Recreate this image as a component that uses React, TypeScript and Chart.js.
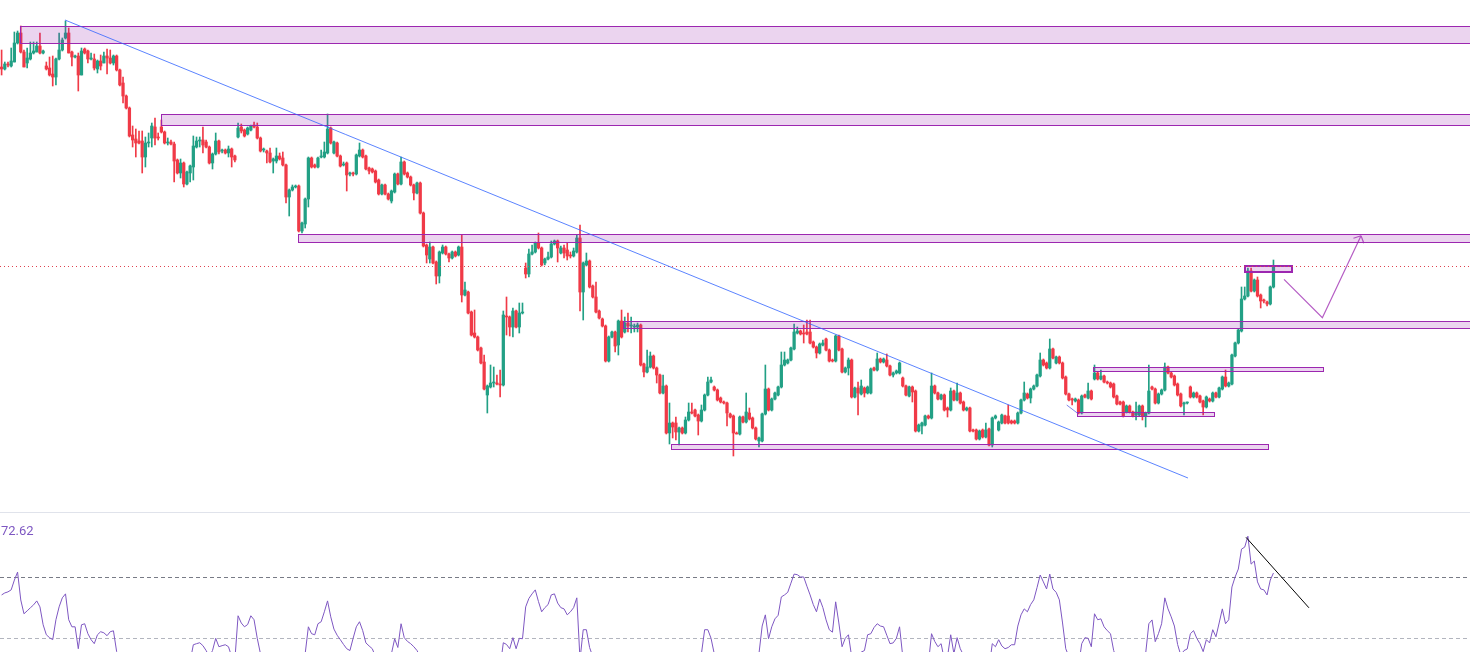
import React, { useEffect, useRef } from "react";
import { Chart, registerables } from "chart.js";

Chart.register(...registerables);

// ---------- DATA ----------
// number of time slots on the x axis (candles + empty future space)
const SLOT_COUNT = 460;
const slotLabels: string[] = Array.from({ length: SLOT_COUNT }, (_, i) => String(i));

// price axis range (arbitrary price units)
const PRICE_MIN = 488;
const PRICE_MAX = 1000;

// RSI axis range visible in the lower pane
const RSI_MIN = 21.06;
const RSI_MAX = 111.76;
const RSI_UPPER = 70;
const RSI_LOWER = 30;
const RSI_LAST_LABEL = "72.62";

const opens = [
  933,931,936,934,938,957,967,948,937,941,
  947,948,954,947,934,932,926,923,941,950,
  962,967,948,943,944,925,951,949,941,941,
  931,939,937,944,942,937,944,930,917,904,
  892,865,861,859,859,843,857,862,873,863,
  873,868,857,858,856,840,827,837,816,827,
  833,853,859,860,858,853,837,846,859,849,
  850,847,851,844,863,873,870,866,870,875,
  873,862,850,849,847,839,839,844,842,835,
  803,810,813,814,769,776,801,842,835,833,
  843,843,847,872,847,857,844,835,837,826,
  827,826,844,850,844,832,831,829,820,806,
  815,806,799,808,826,816,838,827,823,815,
  807,817,787,755,741,753,738,724,747,753,
  746,742,748,745,753,705,708,688,667,663,
  652,638,605,613,617,617,616,615,684,683,
  673,689,673,687,732,726,746,748,757,752,
  737,741,743,756,759,747,752,750,745,744,
  748,762,708,735,739,714,703,689,681,674,
  639,663,668,655,679,668,677,674,673,673,
  675,636,628,633,644,632,625,607,614,567,
  577,577,568,572,567,580,588,590,585,579,
  590,605,618,613,610,602,598,597,586,584,
  567,566,583,578,587,582,572,559,559,586,
  611,590,601,605,613,635,637,640,651,667,
  669,667,668,668,658,653,647,655,661,650,
  640,639,664,651,628,632,640,603,612,606,
  612,607,607,632,630,641,638,640,634,625,
  627,627,622,614,604,613,609,569,574,575,
  584,582,614,607,601,605,592,590,609,600,
  607,598,590,592,570,570,561,570,563,571,
  555,582,570,577,584,584,579,579,577,587,
  600,606,602,611,614,624,640,637,632,651,
  637,643,637,623,606,601,599,600,587,605,
  602,609,621,627,621,624,618,617,616,604,
  598,598,588,594,588,585,585,594,584,587,
  613,611,597,606,610,633,627,624,616,606,
  596,597,613,603,607,604,599,593,601,599,
  607,603,611,623,614,616,644,657,669,701,
  704,729,709,720,705,700,698,696,713,
];

const highs = [
  950,938,938,952,968,969,974,950,952,958,
  958,958,967,950,938,943,944,942,967,962,
  979,972,949,945,947,952,952,950,947,946,
  940,945,948,951,950,945,945,931,923,905,
  893,874,871,869,869,863,867,877,882,867,
  880,869,862,860,858,841,841,838,829,835,
  864,863,863,873,860,854,847,867,860,851,
  851,854,852,845,877,876,871,873,875,878,
  877,863,852,850,852,842,852,847,848,836,
  811,815,815,815,778,802,843,843,836,843,
  850,858,886,873,859,858,845,838,838,828,
  828,846,857,851,845,833,832,830,821,816,
  816,807,810,827,827,843,839,828,824,816,
  818,818,788,756,758,754,739,749,755,754,
  747,749,749,754,765,718,709,689,690,664,
  653,645,615,635,633,625,630,689,703,684,
  692,690,697,697,737,751,755,758,767,753,
  742,748,759,760,760,754,755,757,748,752,
  765,775,738,747,740,715,718,690,682,675,
  664,669,669,680,690,683,687,683,676,677,
  676,637,650,648,645,633,626,625,615,597,
  578,583,573,573,583,597,597,591,586,595,
  606,623,623,614,611,603,599,598,587,585,
  568,584,584,607,592,583,573,563,587,635,
  612,602,608,614,648,648,641,653,676,673,
  670,675,680,680,659,654,657,660,662,651,
  641,665,665,652,633,642,641,613,618,620,
  613,614,632,633,647,642,642,646,635,628,
  630,638,623,615,614,614,610,576,578,585,
  585,627,615,608,606,606,593,612,610,617,
  608,599,593,593,571,571,570,571,577,572,
  583,585,579,586,585,595,580,580,588,601,
  618,607,612,615,626,647,641,638,661,652,
  644,644,638,624,607,602,602,601,605,606,
  617,610,635,628,630,625,619,618,617,605,
  599,599,595,595,589,598,595,595,588,635,
  614,612,607,611,637,634,628,625,617,607,
  598,598,614,608,608,605,600,604,602,608,
  608,613,624,630,618,646,658,671,713,713,
  732,732,721,723,706,701,699,714,740,
];

const lows = [
  925,930,933,933,938,956,947,933,932,940,
  946,948,946,946,930,924,914,915,940,949,
  961,947,934,942,909,925,946,937,940,930,
  927,930,937,926,936,935,929,914,897,891,
  863,853,843,856,827,833,853,853,855,860,
  867,856,855,855,818,826,822,813,815,818,
  820,852,853,847,852,836,831,845,846,847,
  846,843,833,838,862,867,863,865,869,872,
  861,848,848,837,837,827,837,840,834,797,
  784,809,812,768,767,772,793,832,832,832,
  842,842,846,856,846,843,833,834,809,824,
  824,825,843,842,830,826,827,817,805,805,
  805,800,797,807,815,815,825,822,814,800,
  806,786,753,737,737,736,716,717,746,745,
  738,741,743,744,698,704,686,664,662,649,
  636,610,587,612,613,615,603,614,665,664,
  663,672,667,686,722,723,745,747,751,734,
  735,740,742,755,738,746,742,740,742,743,
  747,689,680,734,712,702,687,681,673,638,
  638,662,648,645,662,667,668,667,668,668,
  634,623,627,632,631,617,606,606,566,556,
  562,560,555,566,566,579,586,583,565,578,
  589,604,617,609,599,597,596,574,582,544,
  566,565,577,577,580,571,560,553,558,585,
  589,589,600,604,612,634,636,639,650,666,
  665,657,665,656,652,642,646,654,649,638,
  638,638,649,627,627,625,602,602,585,605,
  603,606,606,629,629,637,637,633,624,623,
  626,626,613,604,603,598,568,568,566,574,
  581,581,606,600,600,589,583,589,599,599,
  596,589,589,568,568,560,560,562,562,554,
  553,581,569,576,576,576,576,576,576,586,
  599,601,597,610,613,623,634,631,631,641,
  636,636,621,605,599,595,598,586,586,602,
  601,600,620,620,620,617,616,612,602,595,
  595,583,587,587,583,580,584,580,573,586,
  610,596,596,605,609,626,622,614,604,593,
  585,596,602,602,602,597,585,592,598,598,
  602,602,610,613,613,615,643,656,668,700,
  703,708,708,703,692,697,694,695,712,
];

const closes = [
  931,936,935,939,957,967,948,933,942,947,
  949,954,947,949,931,925,923,941,950,960,
  967,947,943,944,925,949,947,941,941,932,
  939,934,944,942,937,944,930,915,904,892,
  864,860,857,857,843,857,858,874,862,862,
  868,857,858,856,839,827,837,816,828,834,
  854,859,860,855,853,837,846,859,848,849,
  847,851,843,840,872,869,864,872,874,873,
  862,849,850,847,838,841,844,841,835,803,
  810,813,814,769,777,801,842,833,833,842,
  844,848,871,857,858,844,834,836,825,827,
  826,845,850,843,831,829,828,818,806,815,
  806,801,809,826,816,838,826,823,815,807,
  817,787,754,745,753,737,724,748,753,746,
  742,748,744,753,705,710,687,665,663,650,
  637,611,614,617,617,616,615,685,683,673,
  689,673,687,688,726,746,748,757,752,735,
  741,743,756,759,752,752,747,744,744,749,
  762,708,737,739,713,703,688,682,674,639,
  663,668,654,679,663,677,674,674,674,675,
  635,628,633,644,632,625,607,614,567,577,
  573,568,572,567,580,588,587,584,579,590,
  605,618,620,610,600,598,597,587,583,567,
  566,583,578,588,581,572,561,562,586,611,
  590,601,607,613,635,640,640,652,668,669,
  666,666,666,657,653,647,656,657,650,639,
  639,664,650,628,632,640,603,612,607,614,
  607,613,631,630,641,638,641,634,625,627,
  629,637,614,605,613,608,569,575,577,584,
  582,614,607,601,605,590,590,609,600,607,
  597,590,592,569,569,561,569,563,570,555,
  582,584,578,585,577,577,577,577,587,600,
  607,602,611,614,625,640,635,632,651,642,
  643,637,622,606,600,600,601,587,604,603,
  609,601,627,621,624,618,617,613,603,596,
  596,584,594,588,584,588,594,584,587,609,
  611,597,606,610,633,627,623,615,605,594,
  597,597,603,607,603,598,593,603,599,607,
  603,612,623,614,617,645,657,670,701,704,
  729,709,720,704,699,699,696,713,733,
];

const rsiValues = [
  58.3,59.6,60.3,61.6,68,73.2,55,46,47.9,49.9,
  51.8,54.4,50.5,38.8,32.3,30.4,29.1,42.1,50.5,56.4,
  59,42.1,37.5,37.5,23.2,38.8,39.5,33,29.1,26.5,
  32.3,34.3,33.6,31.7,34.3,34.9,21.3,17.4,14.8,12.2,
  10,9,9,10,8,14,15,19,17,16,
  18,15,15,14,11,9,12,9,13,15,
  25.8,26.5,27.1,25.2,22,18,22,30,24.5,25.2,
  25.8,24.5,18,16,44.7,40,37.5,39,44.7,42.1,
  30,20,19,18,15,16,18,17,15,10,
  13,14,14,8,12,20,37.5,33,32.3,39.5,
  40.8,47.3,54.4,44,36,32,29.1,26,23.2,22,
  30,37.5,40.8,35,27,25,23.2,18,13,18,
  16,14,20,29.7,24,39.5,30.4,28,26.5,24.5,
  22,18,10,9,12,10,8,14,16,15,
  14,16,15,17,9,10,8,6,6,5,
  5,4,8,10,10,10,11,27.1,26,23.2,
  30.4,23.2,30,29.7,50.5,56,59,61.6,54,47.3,
  50,52,58.3,59,53,50,49.2,45.3,47.3,50,
  56.4,16,35.6,35.6,24,18,13,12,11,8,
  16,17,14,20,17,19,18,18,18,18,
  9,8,10,13,10,9,7,9,5,9,
  9,8,9,8,12,15,15,14,13,20,
  35.6,35.6,30,20,17,16,15,13,12,9,
  12,18,20,18,16,14,12,20,38,45.3,
  29.7,37.5,42.7,45,57,58.3,60,66,71.9,71.5,
  70,70,64,58.3,52,47.3,55.7,50,42,35.6,
  34,53.8,40,24.5,30,32.3,18,20,19,21,
  22,32.3,33,37,39.5,38,37.5,32,26.5,27,
  30,37.5,18,14,18,17,8,9,10,12,
  13,33,28,24.5,26.5,16,18,32.3,20,30.4,
  23.2,19,20,10,10,8,13,11,16,10,
  26.5,24.5,29.1,25,23.2,24,25.8,25.8,38,45.3,
  49.2,47.3,52,55.1,63,71.3,66.8,62.2,71.9,62.2,
  60,55.1,40,23.2,18,18,18,12,26.5,30.4,
  30,24.5,46,42.1,42.7,37.5,35,33,22,16,
  15,10,16,12,10,13,19,14,20,39.5,
  42,27.8,33,39.5,56.4,49.2,44,38,26,19,
  22,23,33,35,30,26.5,21.3,29.1,27,35.6,
  31,40,49.2,39.5,42.1,63.5,70,75.2,88.2,89.5,
  96.6,78.4,80.4,66.8,62.2,61.6,58.3,68,72.62,
];

// supply / demand zones: slot index range (end null = to right edge) and price range
const zoneStarts = [5.8, 49.9, 92.8, 194.5, 209.5, 341.6, 336.6, 389.1];
const zoneEnds: (number | null)[] = [null, null, null, null, 396.3, 413.5, 379.6, 403.7];
const zoneTops = [974, 886, 766, 679, 556, 633, 588, 734];
const zoneBottoms = [957, 875, 758.5, 672.5, 551.5, 629.5, 584.5, 728.5];
const zoneIsBold = [false, false, false, false, false, false, false, true];

// descending trend line (slot index, price)
const trendLine = { i1: 19.84, p1: 980, i2: 371.25, p2: 522 };
// small connector line into the lower range box
const connectorLine = { i1: 333.3, p1: 595, i2: 336.6, p2: 587 };
// projected path arrow
const arrowSlots = [401.3, 413.3, 425.4];
const arrowPrices = [720.7, 682.3, 764.3];
// last price line
const lastPriceLevel = 734;
// RSI trend line
const rsiLine = { i1: 389.4, v1: 95.9, i2: 409.1, v2: 49.9 };

// ---------- STYLE ----------
const UP = "#22a085";
const DOWN = "#f03a47";
const ZONE_BORDER = "#9c27b0";
const ZONE_FILL = "rgba(156, 39, 176, 0.2)";

const candleColors = closes.map((c, i) => (c >= opens[i] ? UP : DOWN));
const bodyData = closes.map((c, i) => [opens[i], c]);
const wickData = closes.map((c, i) => [
  Math.min(lows[i], opens[i], c),
  Math.max(highs[i], opens[i], c),
]);

const drawingsPlugin = {
  id: "drawings",
  afterDatasetsDraw(chart: any) {
    const { ctx, chartArea, scales } = chart;
    const x = scales.x;
    const y = scales.y;
    ctx.save();

    // zones
    for (let k = 0; k < zoneStarts.length; k++) {
      const x1 = x.getPixelForValue(zoneStarts[k]);
      const end = zoneEnds[k];
      const x2 = end === null ? chartArea.right + 2 : x.getPixelForValue(end);
      const yt = Math.round(y.getPixelForValue(zoneTops[k]));
      const yb = Math.round(y.getPixelForValue(zoneBottoms[k]));
      ctx.fillStyle = ZONE_FILL;
      ctx.fillRect(x1, yt, x2 - x1, yb - yt);
      ctx.strokeStyle = ZONE_BORDER;
      ctx.lineWidth = zoneIsBold[k] ? 2 : 1;
      const off = zoneIsBold[k] ? 0 : 0.5;
      ctx.strokeRect(Math.round(x1) + off, yt + off, Math.round(x2 - x1), yb - yt);
    }

    // last price dotted line
    const ly = Math.round(y.getPixelForValue(lastPriceLevel)) + 0.5;
    ctx.strokeStyle = "#e0404e";
    ctx.lineWidth = 1;
    ctx.setLineDash([1, 3]);
    ctx.beginPath();
    ctx.moveTo(chartArea.left, ly);
    ctx.lineTo(chartArea.right, ly);
    ctx.stroke();
    ctx.setLineDash([]);

    // trend line
    ctx.strokeStyle = "rgba(50, 100, 255, 0.8)";
    ctx.lineWidth = 1;
    ctx.beginPath();
    ctx.moveTo(x.getPixelForValue(trendLine.i1), y.getPixelForValue(trendLine.p1));
    ctx.lineTo(x.getPixelForValue(trendLine.i2), y.getPixelForValue(trendLine.p2));
    ctx.stroke();

    // connector
    ctx.strokeStyle = "rgba(90, 100, 230, 0.8)";
    ctx.beginPath();
    ctx.moveTo(x.getPixelForValue(connectorLine.i1), y.getPixelForValue(connectorLine.p1));
    ctx.lineTo(x.getPixelForValue(connectorLine.i2), y.getPixelForValue(connectorLine.p2));
    ctx.stroke();

    // arrow path
    const pts = arrowSlots.map((s, k) => ({
      x: x.getPixelForValue(s),
      y: y.getPixelForValue(arrowPrices[k]),
    }));
    ctx.strokeStyle = "rgba(156, 39, 176, 0.75)";
    ctx.lineWidth = 1.2;
    ctx.beginPath();
    pts.forEach((p, k) => (k === 0 ? ctx.moveTo(p.x, p.y) : ctx.lineTo(p.x, p.y)));
    const tip = pts[pts.length - 1];
    const prev = pts[pts.length - 2];
    const ang = Math.atan2(tip.y - prev.y, tip.x - prev.x);
    const L = 8;
    for (const s of [-1, 1]) {
      ctx.moveTo(tip.x, tip.y);
      ctx.lineTo(tip.x - L * Math.cos(ang + s * 0.8), tip.y - L * Math.sin(ang + s * 0.8));
    }
    ctx.stroke();
    ctx.restore();
  },
};

const rsiPlugin = {
  id: "rsiBands",
  beforeDatasetsDraw(chart: any) {
    const { ctx, chartArea, scales } = chart;
    const y = scales.y;
    ctx.save();
    ctx.lineWidth = 1;
    ctx.setLineDash([4, 3]);
    const bands: [number, string][] = [
      [RSI_UPPER, "#787b86"],
      [RSI_LOWER, "#b2b5be"],
    ];
    for (const [v, col] of bands) {
      const py = Math.round(y.getPixelForValue(v)) + 0.5;
      ctx.strokeStyle = col;
      ctx.beginPath();
      ctx.moveTo(chartArea.left, py);
      ctx.lineTo(chartArea.right, py);
      ctx.stroke();
    }
    ctx.restore();
  },
  afterDatasetsDraw(chart: any) {
    const { ctx, scales } = chart;
    const x = scales.x;
    const y = scales.y;
    ctx.save();
    ctx.strokeStyle = "#000000";
    ctx.lineWidth = 1;
    ctx.beginPath();
    ctx.moveTo(x.getPixelForValue(rsiLine.i1), y.getPixelForValue(rsiLine.v1));
    ctx.lineTo(x.getPixelForValue(rsiLine.i2), y.getPixelForValue(rsiLine.v2));
    ctx.stroke();
    ctx.restore();
  },
};

export default function App() {
  const mainRef = useRef<HTMLCanvasElement>(null);
  const rsiRef = useRef<HTMLCanvasElement>(null);

  useEffect(() => {
    document.body.style.margin = "0";
    document.body.style.background = "#ffffff";
    const xScale = {
      type: "category" as const,
      display: false,
      offset: true,
      grid: { display: false },
    };

    const main = new Chart(mainRef.current as HTMLCanvasElement, {
      type: "bar",
      data: {
        labels: slotLabels,
        datasets: [
          {
            label: "wick",
            data: wickData as any,
            backgroundColor: candleColors,
            borderWidth: 0,
            barThickness: 1,
            grouped: false,
            order: 2,
          },
          {
            label: "body",
            data: bodyData as any,
            backgroundColor: candleColors,
            borderWidth: 0,
            barThickness: 2.6,
            minBarLength: 1,
            grouped: false,
            order: 1,
          },
        ],
      },
      options: {
        responsive: false,
        maintainAspectRatio: false,
        animation: false,
        events: [],
        layout: { padding: 0 },
        plugins: { legend: { display: false }, tooltip: { enabled: false } },
        scales: {
          x: xScale,
          y: { type: "linear", display: false, min: PRICE_MIN, max: PRICE_MAX },
        },
      },
      plugins: [drawingsPlugin],
    });

    const rsi = new Chart(rsiRef.current as HTMLCanvasElement, {
      type: "line",
      data: {
        labels: slotLabels,
        datasets: [
          {
            label: "RSI",
            data: rsiValues,
            borderColor: "#7e57c2",
            borderWidth: 1,
            pointRadius: 0,
            tension: 0,
            fill: false,
          },
        ],
      },
      options: {
        responsive: false,
        maintainAspectRatio: false,
        animation: false,
        events: [],
        layout: { padding: 0 },
        plugins: { legend: { display: false }, tooltip: { enabled: false } },
        scales: {
          x: xScale,
          y: { type: "linear", display: false, min: RSI_MIN, max: RSI_MAX },
        },
      },
      plugins: [rsiPlugin],
    });

    return () => {
      main.destroy();
      rsi.destroy();
    };
  }, []);

  return (
    <div
      style={{
        position: "relative",
        width: 1470,
        height: 652,
        background: "#ffffff",
        overflow: "hidden",
        fontFamily: "Roboto, 'Noto Sans', sans-serif",
      }}
    >
      <canvas
        ref={mainRef}
        width={1470}
        height={512}
        style={{ position: "absolute", left: 0, top: 0, width: 1470, height: 512 }}
      />
      <div
        style={{
          position: "absolute",
          left: 0,
          top: 512,
          width: 1470,
          height: 1,
          background: "#e0e3eb",
        }}
      />
      <canvas
        ref={rsiRef}
        width={1470}
        height={139}
        style={{ position: "absolute", left: 0, top: 513, width: 1470, height: 139 }}
      />
      <div
        style={{
          position: "absolute",
          left: 1,
          top: 524,
          fontSize: 13,
          lineHeight: "13px",
          color: "#7e57c2",
          whiteSpace: "nowrap",
        }}
      >
        {RSI_LAST_LABEL}
      </div>
    </div>
  );
}
